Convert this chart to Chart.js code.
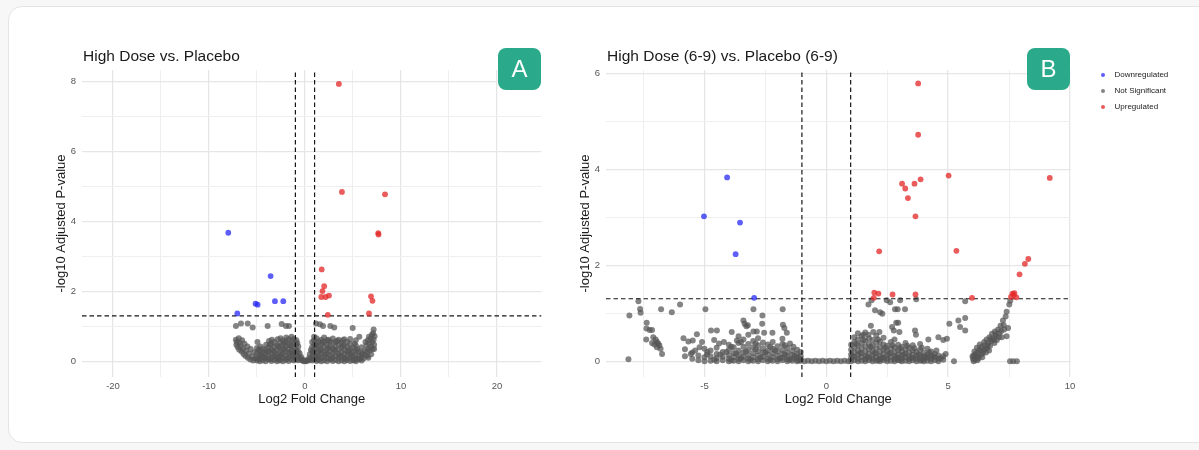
<!DOCTYPE html>
<html><head><meta charset="utf-8">
<script src="https://cdn.jsdelivr.net/npm/chart.js@4.4.1/dist/chart.umd.min.js"></script>
<style>
html,body{margin:0;padding:0;background:#f7f7f7;width:1199px;height:450px;overflow:hidden;font-family:"Liberation Sans",Arial,sans-serif;}
#card{position:absolute;left:8px;top:6px;width:1220px;height:435px;background:#fff;border:1.5px solid #e4e4e4;border-radius:14px;}
canvas{position:absolute;top:0;}
.title{position:absolute;top:48px;font-size:15.5px;line-height:15px;color:#1a1a1a;white-space:nowrap;}
.badge{position:absolute;top:48px;width:43px;height:42px;border-radius:8px;background:#2aa98b;color:#fff;font-size:24px;line-height:42px;text-align:center;}
.leg{position:absolute;left:1114.5px;font-size:8px;line-height:10px;color:#222;white-space:nowrap;}
.dot{position:absolute;left:1100.5px;width:4px;height:4px;border-radius:50%;}
</style></head>
<body>
<div id="card"></div>
<canvas id="cA" width="560" height="450" style="left:0px"></canvas>
<canvas id="cB" width="639" height="450" style="left:560px"></canvas>
<div class="title" style="left:83px">High Dose vs. Placebo</div>
<div class="title" style="left:607px">High Dose (6-9) vs. Placebo (6-9)</div>
<div class="badge" style="left:498px">A</div>
<div class="badge" style="left:1027px">B</div>
<div id="legend"></div>
<script>
// ---------- Panel A data ----------
const aUp = [[3.53,7.94],[3.85,4.85],[8.34,4.78],[7.63,3.67],[7.66,3.63],[1.74,2.63],[2.0,2.15],[1.82,2.01],[1.70,1.84],[2.14,1.84],[2.5,1.88],[2.38,1.33],[6.88,1.86],[7.03,1.73],[6.67,1.37]];
const aDown = [[-7.99,3.68],[-3.58,2.44],[-5.15,1.65],[-4.93,1.62],[-3.13,1.72],[-2.26,1.72],[-7.05,1.37]];
const aNS = [
[-7.19,1.01],[-6.67,1.08],[-5.97,1.08],[-5.45,0.97],[-3.89,1.01],[-2.43,1.07],[-1.98,1.01],[-1.67,1.01],[1.15,1.08],[1.56,1.06],[1.88,1.01],[2.64,1.01],[3.05,0.97],[4.97,0.95],[7.15,0.91],[6.98,0.76],[6.67,0.70],[5.66,0.70],
[-7.2,0.62],[-7.1,0.55],[-7.15,0.47],[-7.0,0.40],[-6.9,0.66],[-6.85,0.33],[-6.8,0.52],[-6.7,0.44],[-6.6,0.28],[-6.55,0.60],[-6.45,0.36],[-6.4,0.21],[-6.3,0.50],[-6.2,0.15],[-6.15,0.30],[-6.0,0.42],[-5.95,0.10],[-5.85,0.22],[-5.7,0.05],[-5.65,0.35],[-5.5,0.14],[-5.4,0.02],[-5.3,0.26],[-5.2,0.08],
[-5.0,0.02],[-5.0,0.12],[-5.0,0.24],[-5.0,0.38],[-4.95,0.55],
[-4.7,0.0],[-4.7,0.08],[-4.7,0.18],[-4.7,0.30],[-4.65,0.42],
[-4.4,0.03],[-4.4,0.14],[-4.4,0.26],[-4.4,0.36],
[-4.1,0.0],[-4.1,0.10],[-4.1,0.21],[-4.1,0.33],[-4.05,0.47],
[-3.8,0.05],[-3.8,0.16],[-3.8,0.28],[-3.8,0.40],[-3.75,0.58],
[-3.5,0.01],[-3.5,0.11],[-3.5,0.22],[-3.5,0.35],[-3.5,0.50],[-3.45,0.62],
[-3.2,0.04],[-3.2,0.15],[-3.2,0.27],[-3.2,0.41],[-3.2,0.55],
[-2.9,0.0],[-2.9,0.09],[-2.9,0.20],[-2.9,0.32],[-2.9,0.46],[-2.85,0.63],
[-2.6,0.03],[-2.6,0.13],[-2.6,0.25],[-2.6,0.38],[-2.6,0.52],[-2.55,0.66],
[-2.3,0.0],[-2.3,0.10],[-2.3,0.22],[-2.3,0.34],[-2.3,0.48],[-2.3,0.60],
[-2.0,0.04],[-2.0,0.16],[-2.0,0.29],[-2.0,0.43],[-2.0,0.57],[-1.95,0.68],
[-1.7,0.01],[-1.7,0.11],[-1.7,0.23],[-1.7,0.36],[-1.7,0.50],[-1.7,0.63],
[-1.4,0.05],[-1.4,0.17],[-1.4,0.30],[-1.4,0.44],[-1.4,0.58],[-1.4,0.70],
[-1.15,0.02],[-1.15,0.12],[-1.15,0.25],[-1.15,0.39],[-1.15,0.53],[-1.15,0.64],
[-0.9,0.06],[-0.9,0.18],[-0.9,0.33],[-0.9,0.48],[-0.9,0.60],
[-0.7,0.03],[-0.7,0.14],[-0.7,0.28],[-0.7,0.42],
[-4.85,0.06],[-4.55,0.20],[-4.25,0.10],[-3.95,0.27],[-3.65,0.06],[-3.35,0.30],[-3.05,0.14],[-2.75,0.42],[-2.45,0.18],[-2.15,0.36],[-1.85,0.08],[-1.55,0.45],[-1.25,0.19],[-1.0,0.28],[-0.8,0.52],[-4.85,0.32],[-3.65,0.48],[-2.75,0.05],[-2.15,0.52],[-1.55,0.26],
[-0.55,0.22],[-0.5,0.08],[-0.4,0.12],[-0.35,0.03],[-0.25,0.05],[-0.15,0.0],[0,0.01],[0.12,0.0],[0.25,0.04],[0.35,0.02],[0.45,0.1],[0.5,0.2],[0.62,0.32],[0.58,0.05],
[0.75,0.02],[0.75,0.14],[0.75,0.27],[0.75,0.41],[0.75,0.55],
[0.95,0.06],[0.95,0.19],[0.95,0.33],[0.95,0.47],[0.95,0.60],[0.95,0.70],
[1.2,0.01],[1.2,0.12],[1.2,0.24],[1.2,0.38],[1.2,0.52],[1.2,0.66],
[1.45,0.04],[1.45,0.16],[1.45,0.29],[1.45,0.43],[1.45,0.57],
[1.7,0.0],[1.7,0.10],[1.7,0.22],[1.7,0.35],[1.7,0.49],[1.7,0.62],
[2.0,0.03],[2.0,0.14],[2.0,0.27],[2.0,0.40],[2.0,0.54],[2.0,0.68],
[2.3,0.0],[2.3,0.09],[2.3,0.20],[2.3,0.33],[2.3,0.47],[2.3,0.60],
[2.6,0.05],[2.6,0.17],[2.6,0.30],[2.6,0.44],[2.6,0.57],
[2.9,0.01],[2.9,0.12],[2.9,0.24],[2.9,0.37],[2.9,0.52],[2.9,0.65],
[3.2,0.04],[3.2,0.15],[3.2,0.28],[3.2,0.42],[3.2,0.56],
[3.5,0.0],[3.5,0.10],[3.5,0.21],[3.5,0.34],[3.5,0.48],[3.5,0.62],
[3.8,0.03],[3.8,0.14],[3.8,0.26],[3.8,0.39],[3.8,0.53],
[4.1,0.0],[4.1,0.09],[4.1,0.20],[4.1,0.32],[4.1,0.46],[4.1,0.63],
[4.4,0.04],[4.4,0.16],[4.4,0.28],[4.4,0.41],[4.4,0.55],
[4.7,0.01],[4.7,0.11],[4.7,0.23],[4.7,0.36],[4.7,0.50],[4.7,0.64],
[5.0,0.03],[5.0,0.14],[5.0,0.26],[5.0,0.39],
[5.3,0.0],[5.3,0.08],[5.3,0.19],[5.3,0.31],[5.3,0.45],[5.3,0.60],
[5.6,0.05],[5.6,0.16],[5.6,0.28],
[5.9,0.02],[5.9,0.12],[5.9,0.24],[5.9,0.40],
[0.85,0.25],[1.1,0.45],[1.35,0.08],[1.6,0.30],[1.85,0.55],[2.15,0.20],[2.45,0.38],[2.75,0.07],[3.05,0.33],[3.35,0.58],[3.65,0.16],[3.95,0.44],[4.25,0.07],[4.55,0.30],[4.85,0.18],[5.15,0.50],[5.45,0.35],[5.75,0.07],[2.45,0.62],[3.95,0.60],[1.1,0.06],[5.15,0.04],
[6.0,0.20],[6.1,0.08],[6.2,0.30],[6.3,0.18],[6.3,0.55],[6.4,0.45],[6.45,0.27],[6.5,0.15],[6.55,0.60],[6.6,0.36],[6.6,0.10],[6.7,0.50],[6.75,0.30],[6.85,0.65],[6.9,0.42],[6.9,0.20],[7.0,0.55],[7.05,0.35],[7.1,0.80],[7.15,0.62],[7.2,0.47],[7.2,0.35],[7.25,0.72]
];
// ---------- Panel B data ----------
const bUp = [[3.77,5.79],[3.77,4.72],[5.02,3.87],[9.17,3.82],[3.87,3.79],[3.11,3.70],[3.62,3.70],[3.24,3.60],[3.35,3.40],[3.66,3.02],[2.17,2.29],[5.34,2.30],[8.29,2.13],[8.15,2.03],[7.93,1.81],[1.97,1.43],[2.14,1.41],[2.72,1.39],[3.66,1.39],[1.95,1.32],[5.98,1.32],[7.64,1.41],[7.69,1.38],[7.58,1.34],[7.80,1.33],[7.72,1.42]];
const bDown = [[-4.07,3.83],[-5.02,3.02],[-3.54,2.89],[-3.72,2.23],[-2.96,1.32]];
const bNS = [
[-7.71,1.25],[-7.64,1.09],[-7.62,1.01],[-8.08,0.95],[-8.12,0.04],[-6.78,1.08],[-6.34,1.02],[-6.0,1.18],[-4.96,1.08],[-2.99,1.08],[-1.79,1.08],
[-7.37,0.80],[-7.38,0.68],[-7.25,0.65],[-7.15,0.65],[-7.39,0.45],[-7.1,0.50],[-7.0,0.45],[-6.95,0.40],[-6.9,0.37],[-6.85,0.33],[-7.05,0.35],[-7.15,0.38],[-6.74,0.15],[-6.8,0.26],[-6.95,0.29],
[-5.86,0.48],[-5.66,0.41],[-5.48,0.43],[-5.31,0.56],[-5.56,0.15],[-5.38,0.22],[-5.2,0.29],[-5.0,0.26],[-4.88,0.19],[-4.73,0.64],[-4.49,0.64],[-4.6,0.44],[-4.4,0.37],[-4.2,0.40],[-3.88,0.61],[-3.67,0.43],[-3.40,0.85],[-3.35,0.78],[-3.28,0.73],[-3.22,0.75],[-2.99,0.62],[-2.62,0.95],[-2.63,0.78],[-2.85,0.62],[-2.55,0.59],[-2.21,0.59],[-1.78,0.76],[-1.72,0.69],[-1.62,0.59],[-1.49,0.37],[-1.35,0.30],
[-5.8,0.10],[-5.8,0.25],[-5.5,0.05],[-5.5,0.18],[-5.25,0.02],[-5.25,0.12],[-5.0,0.0],[-5.0,0.08],
[-4.75,0.01],[-4.75,0.10],[-4.75,0.22],[-4.5,0.0],[-4.5,0.06],[-4.5,0.15],[-4.5,0.28],
[-4.25,0.02],[-4.25,0.09],[-4.25,0.19],[-4.0,0.0],[-4.0,0.05],[-4.0,0.13],[-4.0,0.24],[-4.0,0.34],
[-3.8,0.01],[-3.8,0.08],[-3.8,0.17],[-3.8,0.29],[-3.6,0.0],[-3.6,0.04],[-3.6,0.12],[-3.6,0.22],[-3.6,0.38],[-3.6,0.52],
[-3.4,0.02],[-3.4,0.09],[-3.4,0.18],[-3.4,0.30],[-3.4,0.45],[-3.2,0.0],[-3.2,0.05],[-3.2,0.13],[-3.2,0.24],[-3.2,0.36],[-3.2,0.55],
[-3.0,0.01],[-3.0,0.08],[-3.0,0.17],[-3.0,0.29],[-3.0,0.42],[-2.8,0.0],[-2.8,0.04],[-2.8,0.12],[-2.8,0.21],[-2.8,0.33],[-2.8,0.48],
[-2.6,0.02],[-2.6,0.09],[-2.6,0.18],[-2.6,0.27],[-2.6,0.39],[-2.4,0.0],[-2.4,0.05],[-2.4,0.14],[-2.4,0.23],[-2.4,0.35],
[-2.2,0.01],[-2.2,0.08],[-2.2,0.16],[-2.2,0.26],[-2.2,0.40],[-2.0,0.0],[-2.0,0.04],[-2.0,0.11],[-2.0,0.20],[-2.0,0.31],
[-1.8,0.02],[-1.8,0.07],[-1.8,0.15],[-1.8,0.24],[-1.8,0.36],[-1.8,0.47],[-1.6,0.0],[-1.6,0.04],[-1.6,0.10],[-1.6,0.18],[-1.6,0.28],
[-1.4,0.01],[-1.4,0.06],[-1.4,0.13],[-1.4,0.21],[-1.2,0.0],[-1.2,0.03],[-1.2,0.08],[-1.2,0.15],[-1.2,0.24],[-1.05,0.01],[-1.05,0.05],[-1.05,0.11],[-1.05,0.19],
[-4.9,0.14],[-4.6,0.03],[-4.35,0.14],[-4.1,0.19],[-3.9,0.02],[-3.7,0.16],[-3.5,0.06],[-3.3,0.20],[-3.1,0.03],[-2.9,0.25],[-2.7,0.07],[-2.5,0.18],[-2.3,0.03],[-2.1,0.22],[-1.9,0.06],[-1.7,0.14],[-1.5,0.03],[-1.3,0.11],[-1.1,0.02],[-3.5,0.40],[-2.9,0.37],[-2.3,0.30],[-1.7,0.33],[-3.9,0.30],[-5.1,0.40],
[-0.9,0.0],[-0.75,0.01],[-0.6,0.0],[-0.45,0.01],[-0.3,0.0],[-0.15,0.01],[0,0.0],[0.15,0.01],[0.3,0.0],[0.45,0.01],[0.6,0.0],[0.75,0.01],[0.9,0.0],
[1.02,0.0],[1.02,0.06],[1.02,0.14],[1.02,0.24],[1.02,0.34],
[1.15,0.02],[1.15,0.09],[1.15,0.18],[1.15,0.29],[1.15,0.40],[1.15,0.50],
[1.3,0.0],[1.3,0.05],[1.3,0.13],[1.3,0.22],[1.3,0.33],[1.3,0.45],[1.3,0.58],
[1.45,0.01],[1.45,0.08],[1.45,0.17],[1.45,0.27],[1.45,0.38],[1.45,0.52],
[1.6,0.0],[1.6,0.04],[1.6,0.11],[1.6,0.20],[1.6,0.31],[1.6,0.43],[1.6,0.60],
[1.75,0.02],[1.75,0.07],[1.75,0.15],[1.75,0.25],[1.75,0.36],[1.75,0.48],
[1.9,0.0],[1.9,0.05],[1.9,0.12],[1.9,0.21],[1.9,0.32],[1.9,0.44],
[2.05,0.01],[2.05,0.08],[2.05,0.16],[2.05,0.27],[2.05,0.39],[2.05,0.53],
[2.2,0.0],[2.2,0.04],[2.2,0.11],[2.2,0.20],[2.2,0.30],[2.2,0.41],
[2.35,0.02],[2.35,0.07],[2.35,0.15],[2.35,0.24],[2.35,0.35],[2.35,0.49],
[2.5,0.0],[2.5,0.05],[2.5,0.12],[2.5,0.21],[2.5,0.32],
[2.65,0.01],[2.65,0.08],[2.65,0.17],[2.65,0.27],[2.65,0.40],
[2.8,0.0],[2.8,0.04],[2.8,0.11],[2.8,0.19],[2.8,0.29],[2.8,0.45],
[2.95,0.02],[2.95,0.07],[2.95,0.14],[2.95,0.23],[2.95,0.34],
[3.1,0.0],[3.1,0.05],[3.1,0.12],[3.1,0.20],[3.1,0.30],
[3.25,0.01],[3.25,0.08],[3.25,0.16],[3.25,0.25],[3.25,0.38],
[3.4,0.0],[3.4,0.04],[3.4,0.10],[3.4,0.18],[3.4,0.28],
[3.55,0.02],[3.55,0.07],[3.55,0.14],[3.55,0.22],[3.55,0.33],
[3.7,0.0],[3.7,0.05],[3.7,0.11],[3.7,0.19],
[3.85,0.01],[3.85,0.06],[3.85,0.13],[3.85,0.24],[3.85,0.36],
[4.0,0.0],[4.0,0.04],[4.0,0.10],[4.0,0.17],
[4.15,0.01],[4.15,0.07],[4.15,0.14],[4.15,0.26],
[4.3,0.0],[4.3,0.05],[4.3,0.11],[4.3,0.20],
[4.45,0.02],[4.45,0.08],[4.45,0.15],[4.6,0.0],[4.6,0.05],[4.6,0.12],[4.8,0.03],[4.8,0.10],
[1.08,0.10],[1.22,0.36],[1.38,0.17],[1.52,0.44],[1.68,0.09],[1.82,0.30],[1.98,0.17],[2.12,0.45],[2.28,0.07],[2.42,0.28],[2.58,0.16],[2.72,0.33],[2.88,0.08],[3.02,0.27],[3.18,0.14],[3.32,0.32],[3.48,0.07],[3.62,0.27],[3.78,0.14],[3.92,0.28],[4.08,0.08],[4.22,0.18],[4.38,0.10],[4.52,0.22],[4.7,0.06],[4.9,0.15],[2.12,0.02],[3.02,0.02],[3.92,0.02],
[1.73,1.18],[1.86,1.27],[2.48,1.27],[2.62,1.23],[3.03,1.27],[3.69,1.29],[5.70,1.25],[2.0,1.06],[2.21,1.02],[2.3,0.99],[2.82,1.08],[2.93,1.08],[3.23,1.08],[2.87,0.80],[2.95,0.80],[2.7,0.71],[2.77,0.64],[3.0,0.61],[1.83,0.74],[1.93,0.61],[2.18,0.61],[1.52,0.55],[1.73,0.55],[3.64,0.64],[3.68,0.55],[4.19,0.45],[4.6,0.50],[4.8,0.44],[4.95,0.47],[5.05,0.78],[5.42,0.85],[5.70,0.90],[5.49,0.71],[5.70,0.64],[5.24,0.0],
[6.02,0.05],[6.05,0.12],[6.08,0.20],[6.1,0.03],[6.15,0.10],[6.18,0.28],[6.2,0.17],[6.25,0.06],[6.28,0.24],[6.3,0.35],[6.35,0.14],[6.38,0.30],[6.4,0.08],[6.45,0.22],[6.48,0.40],[6.5,0.33],[6.55,0.18],[6.58,0.45],[6.6,0.27],[6.65,0.38],[6.7,0.50],[6.72,0.32],[6.78,0.42],[6.8,0.57],[6.85,0.48],[6.9,0.38],[6.92,0.62],[6.98,0.53],[7.0,0.44],[7.05,0.66],[7.1,0.58],[7.15,0.74],[7.2,0.50],[7.25,0.85],[7.3,0.66],[7.36,0.93],[7.4,1.03],[7.4,0.52],[7.46,0.69],[7.51,1.18],[7.55,1.26],[7.54,0.0],[7.67,0.0],[7.82,0.0],
[6.12,0.15],[6.22,0.09],[6.32,0.22],[6.42,0.17],[6.52,0.26],[6.62,0.33],[6.68,0.22],[6.75,0.46],[6.88,0.44],[6.95,0.56],[7.08,0.50],[7.18,0.63],[7.28,0.75],[6.0,0.10],[6.05,0.0],[6.2,0.02]
];
// ---------- Axes ----------
const aXTicks = [-20,-15,-10,-5,0,5,10,15,20];
const aXLabels = [-20,-10,0,10,20];
const aYTicks = [0,1,2,3,4,5,6,7,8];
const aYLabels = [0,2,4,6,8];
const bXTicks = [-7.5,-5,-2.5,0,2.5,5,7.5,10];
const bXLabels = [-5,0,5,10];
const bYTicks = [0,1,2,3,4,5,6];
const bYLabels = [0,2,4,6];
const aRange = {xmin:-23.23, xmax:24.64, ymin:-0.45, ymax:8.34};
const bRange = {xmin:-9.04, xmax:10.03, ymin:-0.33, ymax:6.07};
const fcCut = [-1, 1];
const pCut = 1.301;
const seriesNames = ['Downregulated','Not Significant','Upregulated'];
const seriesColors = ['rgba(40,40,245,0.75)','rgba(85,85,85,0.72)','rgba(228,45,45,0.78)'];

Chart.defaults.font.family = '"Liberation Sans", Arial, sans-serif';
const toPts = arr => arr.map(p => ({x:p[0], y:p[1]}));

function makeChart(id, down, ns, up, R, xt, xl, yt, yl, yAxisW, ytPad, padRight){
  const lineDs = (pts) => ({type:'scatter', showLine:true, data:pts, borderColor:'#161616', borderWidth:1.2, borderDash:[4.5,3], pointRadius:0, fill:false, order:1});
  const gridColor = (labels) => (ctx) => (ctx.tick && labels.includes(ctx.tick.value)) ? '#e6e6e6' : '#efefef';
  const gridWidth = (labels) => (ctx) => (ctx.tick && labels.includes(ctx.tick.value)) ? 1.3 : 1.0;
  return new Chart(document.getElementById(id), {
    type:'scatter',
    data:{datasets:[
      {label:seriesNames[0], data:toPts(down), backgroundColor:seriesColors[0], pointRadius:2.9, borderWidth:0, order:0},
      {label:seriesNames[2], data:toPts(up), backgroundColor:seriesColors[2], pointRadius:2.9, borderWidth:0, order:0},
      lineDs([{x:fcCut[0],y:R.ymin},{x:fcCut[0],y:R.ymax}]),
      lineDs([{x:fcCut[1],y:R.ymin},{x:fcCut[1],y:R.ymax}]),
      lineDs([{x:R.xmin,y:pCut},{x:R.xmax,y:pCut}]),
      {label:seriesNames[1], data:toPts(ns), backgroundColor:seriesColors[1], pointRadius:3.0, borderWidth:0, order:2}
    ]},
    options:{
      responsive:false, animation:false, devicePixelRatio:1,
      layout:{padding:{left:0, right:padRight, top:70, bottom:0}},
      plugins:{legend:{display:false}, tooltip:{enabled:false}, title:{display:false}},
      scales:{
        x:{type:'linear', min:R.xmin, max:R.xmax,
          afterBuildTicks:s=>{s.ticks = xt.map(v=>({value:v}));},
          afterFit:s=>{s.height = 73;},
          ticks:{autoSkip:false, maxRotation:0, padding:4, color:'#555', font:{size:9.5}, callback:v=> xl.includes(v) ? String(v) : ''},
          grid:{drawTicks:false, color:gridColor(xl), lineWidth:gridWidth(xl)},
          border:{display:false},
          title:{display:true, text:'Log2 Fold Change', color:'#1a1a1a', font:{size:13}, padding:{top:0,bottom:43}}
        },
        y:{type:'linear', min:R.ymin, max:R.ymax,
          afterBuildTicks:s=>{s.ticks = yt.map(v=>({value:v}));},
          afterFit:s=>{s.width = yAxisW;},
          ticks:{autoSkip:false, padding:6, color:'#555', font:{size:9.5}, callback:v=> yl.includes(v) ? String(v) : ''},
          grid:{drawTicks:false, color:gridColor(yl), lineWidth:gridWidth(yl)},
          border:{display:false},
          title:{display:true, text:'-log10 Adjusted P-value', color:'#1a1a1a', font:{size:13}, padding:{top:ytPad,bottom:0}}
        }
      }
    }
  });
}
makeChart('cA', aDown, aNS, aUp, aRange, aXTicks, aXLabels, aYTicks, aYLabels, 82, 53.2, 18.5);
makeChart('cB', bDown, bNS, bUp, bRange, bXTicks, bXLabels, bYTicks, bYLabels, 46, 17.7, 128.3);

// legend
const legTop = [75.3, 91, 106.7];
const lg = document.getElementById('legend');
seriesNames.forEach((n,i)=>{
  const d = document.createElement('div'); d.className='dot'; d.style.top=(legTop[i]-2)+'px'; d.style.background=seriesColors[i]; lg.appendChild(d);
  const t = document.createElement('div'); t.className='leg'; t.style.top=(legTop[i]-5)+'px'; t.textContent=n; lg.appendChild(t);
});
</script>
</body></html>
